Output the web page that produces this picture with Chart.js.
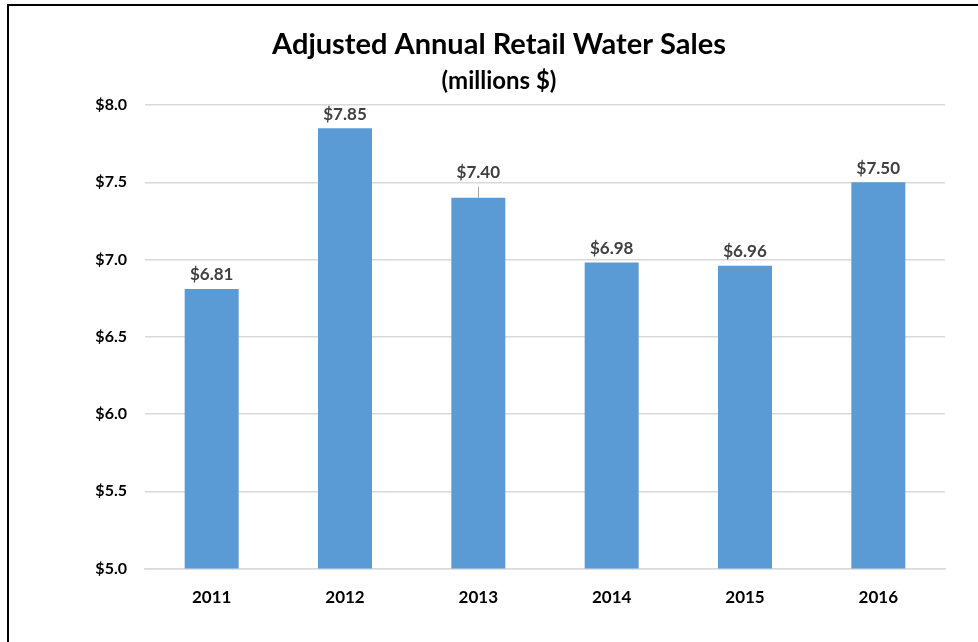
<!DOCTYPE html>
<html>
<head>
<meta charset="utf-8">
<script src="https://cdn.jsdelivr.net/npm/chart.js@4.4.1/dist/chart.umd.min.js"></script>
<style>
  html, body { margin: 0; padding: 0; background: #fff; }
  #wrap { position: relative; width: 978px; height: 642px; overflow: hidden; }
  #frame { position: absolute; left: 7px; top: 4px; width: 980px; height: 650px;
           border-left: 2px solid #000; border-top: 2px solid #000; pointer-events: none; }
  canvas { position: absolute; left: 0; top: 0; }
</style>
</head>
<body>
<div id="wrap">
  <canvas id="myChart" width="978" height="642"></canvas>
  <div id="frame"></div>
</div>
<script>
const years = ['2011', '2012', '2013', '2014', '2015', '2016'];
const sales = [6.81, 7.85, 7.40, 6.98, 6.96, 7.50];
const yTicks = [5.0, 5.5, 6.0, 6.5, 7.0, 7.5, 8.0];

const FONT = 'Lato, "Open Sans", sans-serif';

// value labels above the bars (2013 label sits higher with a leader line)
const valueLabels = {
  id: 'valueLabels',
  afterDatasetsDraw(chart) {
    const { ctx } = chart;
    const meta = chart.getDatasetMeta(0);
    ctx.save();
    ctx.font = 'bold 17px ' + FONT;
    ctx.fillStyle = '#404040';
    ctx.textAlign = 'center';
    ctx.textBaseline = 'middle';
    meta.data.forEach((bar, i) => {
      const lifted = i === 2;
      const y = bar.y - (lifted ? 25 : 14);
      ctx.fillText('$' + sales[i].toFixed(2), bar.x, y);
      if (lifted) {
        ctx.strokeStyle = '#A6A6A6';
        ctx.lineWidth = 1;
        ctx.beginPath();
        ctx.moveTo(Math.round(bar.x) + 0.5, y + 14);
        ctx.lineTo(Math.round(bar.x) + 0.5, bar.y);
        ctx.stroke();
      }
    });
    ctx.restore();
  }
};

const ctx = document.getElementById('myChart').getContext('2d');

const chart = new Chart(ctx, {
  type: 'bar',
  data: {
    labels: years,
    datasets: [{
      data: sales,
      backgroundColor: '#5B9BD5',
      categoryPercentage: 1,
      barPercentage: 0.405
    }]
  },
  options: {
    responsive: false,
    animation: false,
    layout: { padding: { left: 53, right: 33, top: 0, bottom: 15 } },
    plugins: {
      legend: { display: false },
      tooltip: { enabled: false },
      title: {
        display: true,
        text: 'Adjusted Annual Retail Water Sales',
        color: '#000',
        font: { family: FONT, size: 29, weight: 'bold' },
        padding: { top: 27, bottom: 2 }
      },
      subtitle: {
        display: true,
        text: '(millions $)',
        color: '#000',
        font: { family: FONT, size: 24, weight: 'bold' },
        padding: { top: 3, bottom: 9.4 }
      }
    },
    scales: {
      y: {
        min: 5,
        max: 8,
        afterBuildTicks: axis => { axis.ticks = yTicks.map(v => ({ value: v })); },
        afterFit: axis => { axis.width = 92; },
        grid: { color: '#D9D9D9', lineWidth: 1.5, drawTicks: false },
        border: { display: false },
        ticks: {
          padding: 18,
          color: '#000',
          font: { family: FONT, size: 16, weight: 'bold' },
          callback: v => '$' + Number(v).toFixed(1)
        }
      },
      x: {
        grid: { display: false, drawTicks: false },
        border: { color: '#D9D9D9', width: 1.5 },
        ticks: {
          padding: 19,
          color: '#000',
          font: { family: FONT, size: 17, weight: 'bold' }
        }
      }
    }
  },
  plugins: [valueLabels]
});
</script>
</body>
</html>
